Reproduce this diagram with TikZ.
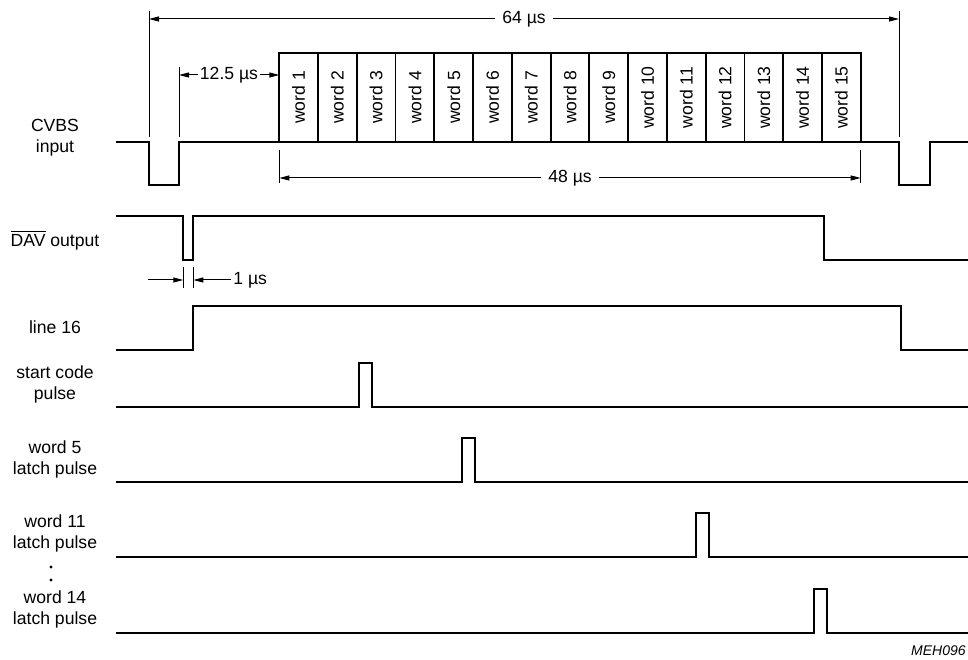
\documentclass[tikz,border=0pt]{standalone}
\usepackage{fontspec}
\setmainfont{Liberation Sans}
\usetikzlibrary{arrows.meta}

\begin{document}
\begin{tikzpicture}[x=0.5pt,y=0.5pt]

\tikzstyle {signal}=[line width=1.1pt];
\tikzstyle {dim}=[line width=0.5pt];
\tikzstyle {dimarrow}=[dim,-{Triangle[length=5pt,width=2.5pt]}];
\tikzstyle {txt}=[font=\fontsize{8.8}{10.5}\selectfont,align=center,inner sep=1pt];
\tikzstyle {wordbox}=[draw,shape=rectangle,line width=0.9pt,outer sep=0pt,
     minimum width=19.38pt,minimum height=44.5pt,anchor=south west];

\useasboundingbox (0,0) rectangle (968,659);

\newcommand*{\latchpulse}[2]{
\draw [signal] (116,#1) -- (#2,#1) -- ++(0,44) -- ++(13,0) -- ++(0,-44) -- (968,#1);
}

% CVBS input
\draw [signal] (116,517) -- (149,517) -- ++(0,-43) -- ++(30,0) -- ++(0,43)
   -- (899,517) -- ++(0,-43) -- ++(31,0) -- ++(0,43) -- (968,517);
\foreach \i in {1,...,15}
{
\draw ({279.3+(\i-1)*38.76},517) node [wordbox] (wd\i) {};
\draw (wd\i.center) node [txt,rotate=90] (wt\i) {word \i};
}

% 64 us
\draw [dim] (149,522) -- (149,648);
\draw [dim] (899,522) -- (899,648);
\coordinate (l64) at (149,640);
\coordinate (r64) at (899,640);
\draw (524,640) node [txt,inner sep=3.5pt] (d64) {64 µs};
\draw [dimarrow] (d64) -- (l64);
\draw [dimarrow] (d64) -- (r64);

% 12.5 us
\draw [dim] (179,522) -- (179,592);
\coordinate (l125) at (179,584);
\coordinate (r125) at (279.3,584);
\draw (229,584) node [txt] (d125) {12.5 µs};
\draw [dimarrow] (d125) -- (l125);
\draw [dimarrow] (d125) -- (r125);

% 48 us
\draw [dim] (279.3,476) -- (279.3,509);
\draw [dim] (860.7,476) -- (860.7,509);
\coordinate (l48) at (279.3,481);
\coordinate (r48) at (860.7,481);
\draw (570,481) node [txt,inner sep=3.5pt] (d48) {48 µs};
\draw [dimarrow] (d48) -- (l48);
\draw [dimarrow] (d48) -- (r48);

% DAV output
\draw [signal] (116,443) -- (183.3,443) -- ++(0,-44) -- ++(10,0) -- ++(0,44)
   -- (824,443) -- ++(0,-44) -- (968,399);

% 1 us
\draw [dim] (183.3,371) -- (183.3,392);
\draw [dim] (193.3,371) -- (193.3,392);
\coordinate (l1a) at (148,379);
\coordinate (l1b) at (183.3,379);
\coordinate (r1b) at (193.3,379);
\draw (231,379) node [txt,anchor=west] (d1) {1 µs};
\draw [dimarrow] (l1a) -- (l1b);
\draw [dimarrow] (d1.west) -- (r1b);

% line 16
\draw [signal] (116,309) -- (193.3,309) -- ++(0,44) -- (901,353) -- ++(0,-44) -- (968,309);

% pulses
\latchpulse{252}{359}
\latchpulse{177}{462.3}
\latchpulse{102}{695.7}
\latchpulse{26}{814}

% Labels of the traces
\draw (55,521.5) node [txt] (cvbs) {CVBS\\input};
\draw (55,419) node [txt] (dav) {$\overline{\mbox{DAV}}$ output};
\draw (55,332) node [txt] (l16) {line 16};
\draw (55,274.5) node [txt] (start) {start code\\pulse};
\draw (55,199.5) node [txt] (w5) {word 5\\latch pulse};
\draw (55,125.5) node [txt] (w11) {word 11\\latch pulse};
\fill (51,92) circle (0.85pt);
\fill (51,79) circle (0.85pt);
\draw (55,50) node [txt] (w14) {word 14\\latch pulse};

\draw (966,8) node [font=\fontsize{7}{8}\selectfont\itshape,anchor=east,inner sep=0pt] (code) {MEH096};
\end{tikzpicture}
\end{document}
